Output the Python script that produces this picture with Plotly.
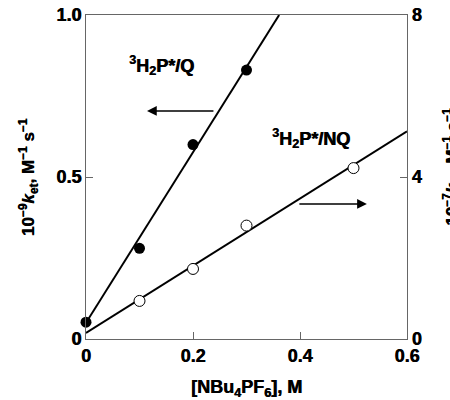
import plotly.graph_objects as go

# Data
conc_Q = [0.0, 0.1, 0.2, 0.3]
ket_Q = [0.052, 0.28, 0.60, 0.83]          # 10^-9 k_et (left axis)
conc_NQ = [0.1, 0.2, 0.3, 0.5]
ket_NQ = [0.94, 1.73, 2.80, 4.22]          # 10^-7 k_et (right axis)
fitQ_x = [0.0, 0.361]
fitQ_y = [0.05, 1.0]
fitNQ_x = [0.0, 0.6]
fitNQ_y = [0.15, 5.13]
x_ticks = [0, 0.2, 0.4, 0.6]
x_ticklabels = ["0", "0.2", "0.4", "0.6"]
yl_ticks = [0, 0.5, 1.0]
yl_ticklabels = ["0", "0.5", "1.0"]
yr_ticks = [0, 4, 8]
yr_ticklabels = ["0", "4", "8"]

FONT = "Arial, Liberation Sans, sans-serif"
SHADOW = "0.6px 0 0 black"
def b(lst):
    return ["<b>%s</b>" % s for s in lst]

fig = go.Figure()
fig.add_trace(go.Scatter(x=fitQ_x, y=fitQ_y, mode="lines",
                         line=dict(color="black", width=2), showlegend=False))
fig.add_trace(go.Scatter(x=conc_Q, y=ket_Q, mode="markers",
                         marker=dict(color="black", size=11), showlegend=False,
                         cliponaxis=False))
fig.add_trace(go.Scatter(x=fitNQ_x, y=fitNQ_y, mode="lines", yaxis="y2",
                         line=dict(color="black", width=2), showlegend=False))
fig.add_trace(go.Scatter(x=conc_NQ, y=ket_NQ, mode="markers", yaxis="y2",
                         marker=dict(color="white", size=11,
                                     line=dict(color="black", width=1)),
                         showlegend=False))

tf = dict(family=FONT, size=18, color="black", weight=900, shadow=SHADOW)
axis_common = dict(showline=True, linecolor="#666666", linewidth=1.2,
                   ticks="inside", ticklen=7, tickcolor="#666666", tickwidth=1,
                   showgrid=False, zeroline=False, tickfont=tf)
titlefont = dict(family=FONT, size=18, color="black", weight=900, shadow=SHADOW)
labfont = dict(family=FONT, size=17, color="black", weight=900, shadow=SHADOW)

fig.update_layout(
    width=450, height=400,
    margin=dict(l=86, r=43, t=15, b=61),
    plot_bgcolor="white", paper_bgcolor="white",
    xaxis=dict(range=[0, 0.6], tickvals=x_ticks, ticktext=b(x_ticklabels),
               mirror=True, **axis_common),
    yaxis=dict(range=[0, 1.0], tickvals=yl_ticks, ticktext=b(yl_ticklabels),
               **axis_common),
    yaxis2=dict(range=[0, 8], tickvals=yr_ticks, ticktext=b(yr_ticklabels),
                overlaying="y", side="right", **axis_common),
    annotations=[
        dict(x=0.5, y=-0.152, xref="paper", yref="paper", showarrow=False,
             xanchor="center", yanchor="middle",
             text="<b>[NBu<sub>4</sub>PF<sub>6</sub>], M</b>", font=titlefont),
        dict(x=-0.18, y=0.5, xref="paper", yref="paper", showarrow=False,
             xanchor="center", yanchor="middle", textangle=-90,
             text="<b>10<sup>\u22129</sup><i>k</i><sub>et</sub>, M<sup>\u22121</sup> s<sup>\u22121</sup></b>",
             font=labfont),
        dict(x=1.097, y=0.53, xref="paper", yref="paper", showarrow=False,
             xanchor="left", yanchor="middle", textangle=-90,
             text="<b>10<sup>\u22127</sup><i>k</i><sub>et</sub>, M<sup>\u22121</sup> s<sup>\u22121</sup></b>",
             font=labfont),
        dict(x=0.142, y=0.845, xref="x", yref="y", showarrow=False,
             text="<b><sup>3</sup>H<sub>2</sub>P*/Q</b>", font=titlefont),
        dict(x=0.42, y=0.62, xref="x", yref="y", showarrow=False,
             text="<b><sup>3</sup>H<sub>2</sub>P*/NQ</b>", font=titlefont),
        dict(x=0.114, y=0.704, ax=0.241, ay=0.704, xref="x", yref="y",
             axref="x", ayref="y", text="", showarrow=True, arrowhead=2,
             arrowsize=1.3, arrowwidth=1.5, arrowcolor="black"),
        dict(x=0.525, y=0.417, ax=0.396, ay=0.417, xref="x", yref="y",
             axref="x", ayref="y", text="", showarrow=True, arrowhead=2,
             arrowsize=1.3, arrowwidth=1.5, arrowcolor="black"),
    ],
)
fig.update_yaxes(automargin=False)
fig.update_xaxes(automargin=False)
fig.write_html("out.html")
